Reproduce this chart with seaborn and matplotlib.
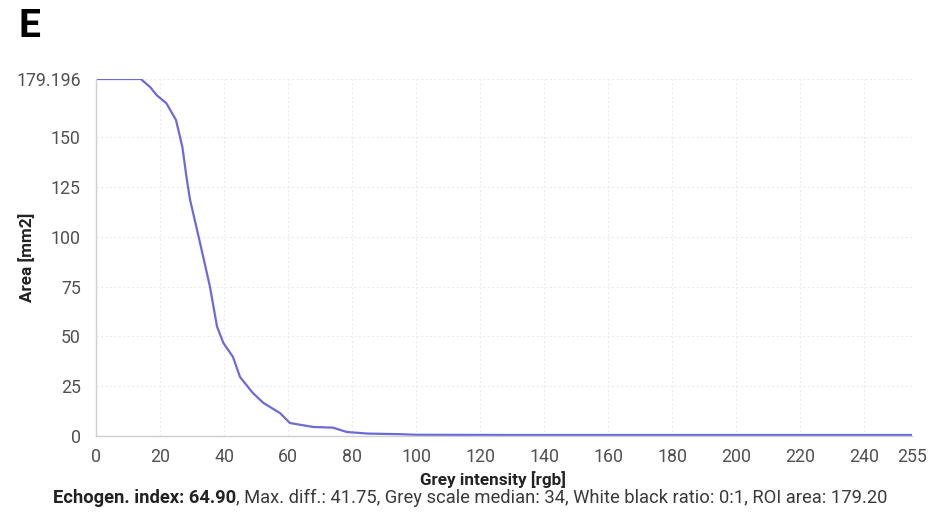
import matplotlib
matplotlib.use("Agg")
import matplotlib.pyplot as plt
import seaborn as sns
import pandas as pd

# Cumulative area above each grey level
grey_level = [0, 5, 10, 14, 17, 19, 22, 25, 27, 28.4, 29.4, 32.5, 35.6, 37.8, 39.8,
              42.8, 45, 49, 52.3, 57.5, 60.6, 68, 74, 78.4, 85, 95, 100, 130, 180, 255]
area_mm2 = [179.196, 179.196, 179.196, 179.196, 175, 171, 167, 158.6, 145, 128.5, 118.5,
            97, 75, 55, 46.7, 39.7, 29.6, 21.6, 16.6, 11.5, 6.5, 4.5, 4.2, 2.0, 1.2,
            0.9, 0.6, 0.5, 0.5, 0.5]

x_ticks = [0, 20, 40, 60, 80, 100, 120, 140, 160, 180, 200, 220, 240, 255]
y_ticks = [0, 25, 50, 75, 100, 125, 150, 179.196]
y_tick_labels = ["0", "25", "50", "75", "100", "125", "150", "179.196"]

panel_letter = "E"
x_title = "Grey intensity [rgb]"
y_title = "Area [mm2]"
summary_bold = "Echogen. index: 64.90"
summary_rest = ", Max. diff.: 41.75, Grey scale median: 34, White black ratio: 0:1, ROI area: 179.20"

sns.set_theme(style="white")
plt.rcParams["font.family"] = ["Roboto", "DejaVu Sans"]

df = pd.DataFrame({"grey": grey_level, "area": area_mm2})

fig = plt.figure(figsize=(9.33, 5.17), dpi=100)
ax = fig.add_axes([0.1029, 0.1567, 0.8746, 0.6905])

sns.lineplot(data=df, x="grey", y="area", ax=ax, color="#6d6ad8", linewidth=1.6)

ax.set_xlim(0, 255)
ax.set_ylim(0, 179.196)
ax.set_xticks(x_ticks)
ax.set_xticklabels([str(t) for t in x_ticks])
ax.set_yticks(y_ticks)
ax.set_yticklabels(y_tick_labels)
ax.tick_params(axis="both", length=0, labelsize=12.8, labelcolor="#505050")
ax.tick_params(axis="x", pad=9)
ax.tick_params(axis="y", pad=11)

ax.grid(True, color="#ececec", linestyle=(0, (2, 2)), linewidth=0.8)
for side in ["top", "right"]:
    ax.spines[side].set_visible(False)
for side in ["left", "bottom"]:
    ax.spines[side].set_color("#d0d0d0")
    ax.spines[side].set_linewidth(1.0)

ax.set_xlabel(x_title, fontsize=12.3, fontweight="bold", color="#222222")
ax.set_ylabel(y_title, fontsize=12.3, fontweight="bold", color="#222222")
ax.xaxis.set_label_coords(0.487, -0.098)
ax.yaxis.set_label_coords(-0.075, 0.5)

fig.text(0.020, 0.913, panel_letter, fontsize=28, fontweight="bold", color="black",
         ha="left", va="bottom")

# Summary line: bold lead followed by regular text
fig.canvas.draw()
renderer = fig.canvas.get_renderer()
t1 = fig.text(0.0, 0.036, summary_bold, fontsize=13.2, fontweight="bold", color="#222222",
              ha="left", va="center")
t2 = fig.text(0.0, 0.036, summary_rest, fontsize=13.2, color="#3a3a3a",
              ha="left", va="center")
w1 = t1.get_window_extent(renderer).width
w2 = t2.get_window_extent(renderer).width
fig_w = fig.bbox.width
start = 0.504 * fig_w - (w1 + w2) / 2
t1.set_x(start / fig_w)
t2.set_x((start + w1) / fig_w)

fig.savefig("out.png", dpi=100, facecolor="white")
